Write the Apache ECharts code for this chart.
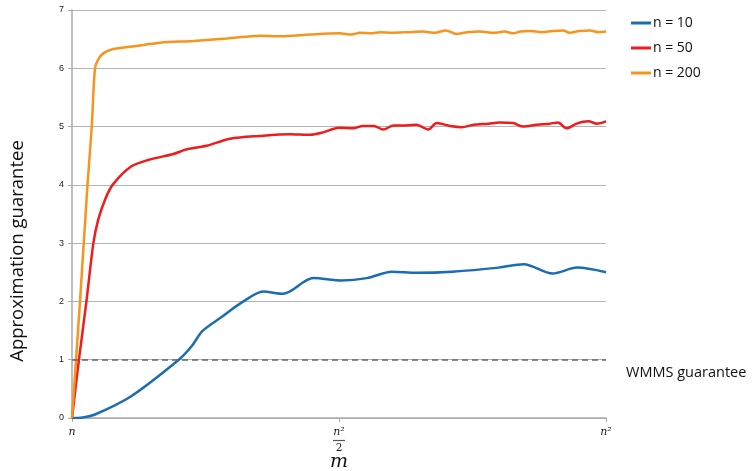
<!DOCTYPE html>
<html>
<head>
<meta charset="utf-8">
<script src="https://cdn.jsdelivr.net/npm/echarts@6/dist/echarts.min.js"></script>
<style>
	html, body { margin: 0; padding: 0; background: #fff; }
	#chart { width: 754px; height: 471px; }
</style>
</head>
<body>
<div id="chart"></div>
<script>
// m as a fraction of the range n .. n^2
var n10X = [0, 0.02, 0.043, 0.11, 0.2, 0.224, 0.244, 0.278, 0.321, 0.358, 0.395, 0.452, 0.505, 0.552, 0.599, 0.645, 0.712, 0.799, 0.846, 0.9, 0.946, 1.0];
var n10Y = [0, 0.01, 0.06, 0.37, 1.0, 1.23, 1.49, 1.72, 2.0, 2.17, 2.13, 2.40, 2.36, 2.40, 2.51, 2.49, 2.51, 2.58, 2.64, 2.48, 2.58, 2.50];

var n50X = [0, 0.013, 0.027, 0.04, 0.049, 0.062, 0.076, 0.11, 0.144, 0.19, 0.215, 0.252, 0.296, 0.352, 0.408, 0.446, 0.47, 0.50, 0.526, 0.545, 0.565, 0.583, 0.602, 0.625, 0.645, 0.667, 0.683, 0.708, 0.73, 0.752, 0.78, 0.80, 0.826, 0.845, 0.87, 0.895, 0.91, 0.926, 0.945, 0.967, 0.983, 1.0];
var n50Y = [0, 1, 2, 3, 3.4, 3.75, 4.0, 4.31, 4.43, 4.53, 4.61, 4.67, 4.79, 4.84, 4.87, 4.86, 4.90, 4.98, 4.97, 5.01, 5.01, 4.95, 5.02, 5.02, 5.03, 4.95, 5.06, 5.01, 4.99, 5.03, 5.05, 5.07, 5.06, 5.00, 5.03, 5.05, 5.07, 4.97, 5.05, 5.09, 5.05, 5.09];

var n200X = [0, 0.015, 0.029, 0.037, 0.043, 0.049, 0.059, 0.077, 0.10, 0.134, 0.165, 0.227, 0.29, 0.352, 0.39, 0.446, 0.50, 0.524, 0.539, 0.56, 0.577, 0.60, 0.63, 0.657, 0.68, 0.70, 0.72, 0.74, 0.764, 0.79, 0.81, 0.826, 0.84, 0.858, 0.88, 0.90, 0.92, 0.932, 0.95, 0.97, 0.985, 1.0];
var n200Y = [0, 2, 4, 5, 6, 6.15, 6.26, 6.33, 6.36, 6.40, 6.44, 6.47, 6.51, 6.56, 6.55, 6.58, 6.60, 6.58, 6.61, 6.60, 6.62, 6.61, 6.62, 6.63, 6.61, 6.65, 6.59, 6.62, 6.63, 6.61, 6.63, 6.60, 6.63, 6.64, 6.62, 6.64, 6.65, 6.61, 6.64, 6.65, 6.62, 6.63];

var seriesNames = ['n = 10', 'n = 50', 'n = 200'];
var guarantee = 1;
var guaranteeLabel = 'WMMS guarantee';
var yTicks = [0, 7, 1]; // min, max, interval

function pairs(xs, ys) {
	var out = [];
	for (var i = 0; i < xs.length; i++) {
		out.push([xs[i], ys[i]]);
	}
	return out;
}

var chart = echarts.init(document.getElementById('chart'));

var lineBase = function(name, color, data) {
	return {
		type: 'line',
		name: name,
		data: data,
		smooth: 0.3,
		showSymbol: false,
		lineStyle: { color: color, width: 2.5 },
		itemStyle: { color: color }
	};
};

var series = [
	lineBase(seriesNames[0], '#1a6db5', pairs(n10X, n10Y)),
	lineBase(seriesNames[1], '#ee1c1c', pairs(n50X, n50Y)),
	lineBase(seriesNames[2], '#f7941d', pairs(n200X, n200Y))
];

series[0].markLine = {
	silent: true,
	symbol: 'none',
	lineStyle: { color: '#666', type: [6, 4], width: 1.5 },
	label: {
		position: 'end',
		distance: 20,
		// blank first line pushes the text a bit under the dashed line
		formatter: '\n' + guaranteeLabel,
		lineHeight: 26,
		color: '#111',
		fontSize: 14.5,
		fontFamily: 'Open Sans'
	},
	data: [{ yAxis: guarantee }]
};

var option = {
	animation: false,
	backgroundColor: '#fff',
	grid: {
		left: 72,
		right: 148,
		top: 10,
		bottom: 53,
		outerBoundsMode: 'none'
	},
	legend: {
		orient: 'vertical',
		left: 626,
		top: 11,
		itemGap: 11,
		icon: 'rect',
		itemWidth: 20,
		itemHeight: 3,
		textStyle: {
			color: '#111',
			fontSize: 14,
			fontFamily: 'Open Sans',
			padding: [0, 0, 0, -3]
		},
		data: seriesNames
	},
	xAxis: {
		type: 'value',
		min: 0,
		max: 1,
		interval: 0.5,
		name: 'm',
		nameLocation: 'middle',
		nameGap: 35,
		nameMoveOverlap: false,
		nameTextStyle: {
			fontFamily: 'DejaVu Serif',
			fontStyle: 'italic',
			fontSize: 19,
			color: '#111'
		},
		axisLine: { lineStyle: { color: '#aaa', width: 1.5 } },
		axisTick: { show: true, length: 4, lineStyle: { color: '#aaa' } },
		splitLine: { show: false },
		axisLabel: {
			margin: 8,
			formatter: function(v) {
				if (v === 0) return '{i|n}';
				if (v === 0.5) return '{i|n²}\n{bar| }\n{d|2}';
				return '{i|n²}';
			},
			rich: {
				i: { fontFamily: 'DejaVu Serif', fontStyle: 'italic', fontSize: 11, color: '#222', lineHeight: 12 },
				bar: { fontSize: 1, width: 12, height: 1.2, lineHeight: 5, backgroundColor: '#555' },
				d: { fontFamily: 'DejaVu Serif', fontSize: 10.5, color: '#222', lineHeight: 11 }
			}
		}
	},
	yAxis: {
		type: 'value',
		min: yTicks[0],
		max: yTicks[1],
		interval: yTicks[2],
		name: 'Approximation guarantee',
		nameLocation: 'middle',
		nameGap: 45,
		nameMoveOverlap: false,
		nameTextStyle: {
			fontFamily: 'Open Sans',
			fontSize: 18.5,
			color: '#111',
			padding: [0, 74, 0, 0]
		},
		axisLine: { show: true, lineStyle: { color: '#aaa', width: 1.5 } },
		axisTick: { show: true, length: 4, lineStyle: { color: '#aaa' } },
		splitLine: { lineStyle: { color: '#b4b4b4', width: 1 } },
		axisLabel: {
			margin: 8,
			fontSize: 9,
			color: '#222',
			fontFamily: 'Liberation Sans'
		}
	},
	series: series
};

chart.setOption(option);
</script>
</body>
</html>
